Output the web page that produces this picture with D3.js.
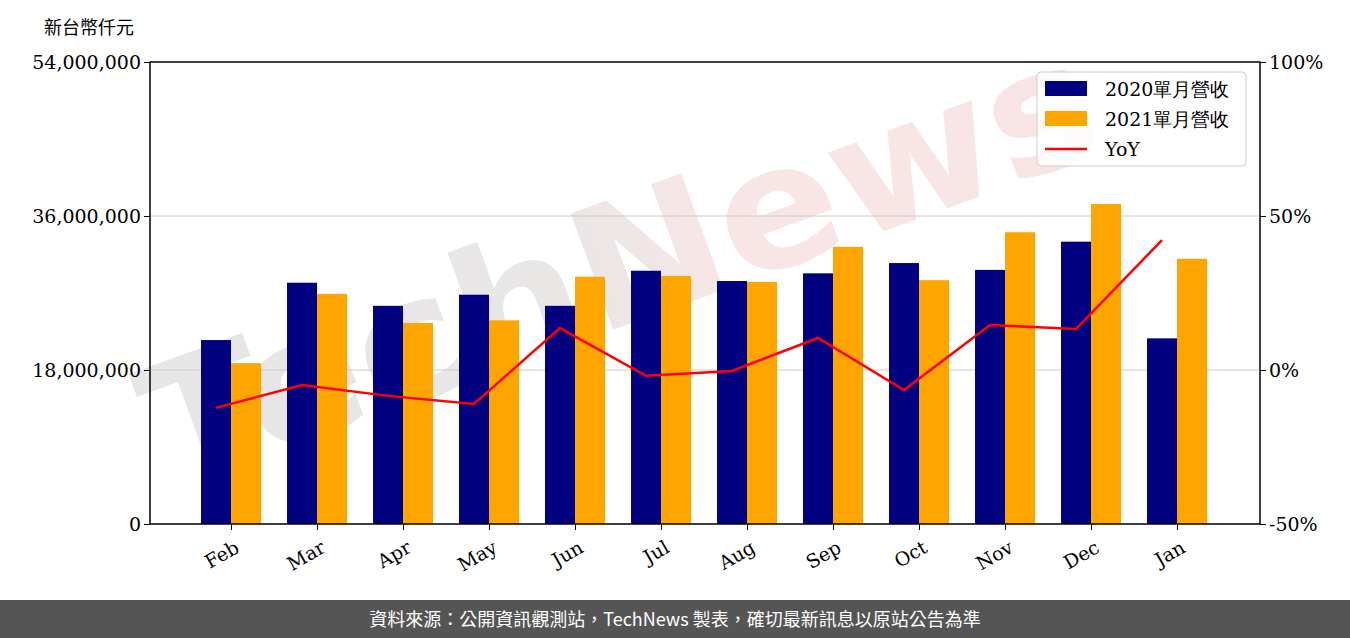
<!DOCTYPE html>
<html><head><meta charset="utf-8">
<script src="https://cdn.jsdelivr.net/npm/d3@7"></script>
<style>body{margin:0;background:#fff}text{font-family:"DejaVu Serif",serif}</style>
</head><body><svg id="c" width="1350" height="638"></svg>
<script>
var months = ["Feb","Mar","Apr","May","Jun","Jul","Aug","Sep","Oct","Nov","Dec","Jan"];
var rev2020 = [21.5,28.2,25.5,26.8,25.5,29.6,28.4,29.3,30.5,29.7,33.0,21.7]; // million
var rev2021 = [18.8,26.9,23.5,23.8,28.9,29.0,28.3,32.4,28.5,34.1,37.4,31.0];
var yoy = [-12.3,-4.9,-8.4,-11,13.6,-1.9,-0.3,10.4,-6.5,14.6,13.3,42.2];
var leftTicks = [0,18e6,36e6,54e6];
var rightTicks = [-50,0,50,100];

var svg = d3.select("#c");
var L=150,R=1260,T=62,B=524;
var x = d3.scalePoint().domain(months).range([231,231+86*11]);
var y = d3.scaleLinear().domain([0,54e6]).range([B,T]);
var y2 = d3.scaleLinear().domain([-50,100]).range([B,T]);

// watermark
var grad = svg.append("defs").append("linearGradient").attr("id","wm");
grad.append("stop").attr("offset","0%").attr("stop-color","#e6e6e6");
grad.append("stop").attr("offset","45%").attr("stop-color","#e9e6e6");
grad.append("stop").attr("offset","60%").attr("stop-color","#f8e6e6");
grad.append("stop").attr("offset","100%").attr("stop-color","#f8e4e4");
svg.append("text").attr("transform","translate(640,320) rotate(-20)")
  .attr("text-anchor","middle").style("font-family","DejaVu Sans").style("font-weight","bold")
  .attr("textLength",1000).attr("lengthAdjust","spacingAndGlyphs")
  .style("font-size","170px").style("fill","url(#wm)").text("TechNews");

svg.append("g").selectAll("line").data(leftTicks.slice(1,3)).join("line")
  .attr("x1",L).attr("x2",R).attr("y1",d=>y(d)).attr("y2",d=>y(d)).attr("stroke","#ccc");

svg.append("g").selectAll("rect").data(rev2020).join("rect")
  .attr("x",(d,i)=>x(months[i])-30).attr("width",30).attr("y",d=>y(d*1e6)).attr("height",d=>B-y(d*1e6)).attr("fill","#000080");
svg.append("g").selectAll("rect").data(rev2021).join("rect")
  .attr("x",(d,i)=>x(months[i])).attr("width",30).attr("y",d=>y(d*1e6)).attr("height",d=>B-y(d*1e6)).attr("fill","#ffa500");

svg.append("path").datum(yoy).attr("fill","none").attr("stroke","red").attr("stroke-width",2.5)
  .attr("d",d3.line().x((d,i)=>x(months[i])-15).y(d=>y2(d)));

svg.append("rect").attr("x",L).attr("y",T).attr("width",R-L).attr("height",B-T).attr("fill","none").attr("stroke","#000").attr("stroke-width",1.5);

var ax = svg.append("g").attr("transform","translate("+L+",0)")
  .call(d3.axisLeft(y).tickValues(leftTicks).tickFormat(d3.format(",")).tickSizeOuter(0));
var ax2 = svg.append("g").attr("transform","translate("+R+",0)")
  .call(d3.axisRight(y2).tickValues(rightTicks).tickFormat(d=>d+"%").tickSizeOuter(0));
var axb = svg.append("g").attr("transform","translate(0,"+B+")")
  .call(d3.axisBottom(x).tickSizeOuter(0));
[ax,ax2,axb].forEach(g=>{g.select(".domain").remove();g.selectAll("text").style("font-size","19px").style("fill","#000");g.selectAll("line").attr("stroke","#000");});
axb.selectAll("text").attr("text-anchor","end").attr("transform","translate(-2,8) rotate(-30)").attr("dy","0.7em");

svg.append("text").attr("x",44).attr("y",34).style("font-family","Noto Sans CJK TC").style("font-size","18px").text("新台幣仟元");

var lg = svg.append("g").attr("transform","translate(1037,72)");
lg.append("rect").attr("width",209).attr("height",94).attr("rx",4).attr("fill","#fff").attr("fill-opacity",0.85).attr("stroke","#ccc");
var items=[["2020單月營收","#000080"],["2021單月營收","#ffa500"],["YoY","red"]];
items.forEach((it,i)=>{
  var yy=17+i*30;
  if(i<2) lg.append("rect").attr("x",8).attr("y",yy-8).attr("width",42).attr("height",15).attr("fill",it[1]);
  else lg.append("line").attr("x1",8).attr("x2",50).attr("y1",yy).attr("y2",yy).attr("stroke",it[1]).attr("stroke-width",2.5);
  lg.append("text").attr("x",68).attr("y",yy+7).style("font-size","19px").text(it[0]);
});

svg.append("rect").attr("x",0).attr("y",600).attr("width",1350).attr("height",38).attr("fill","#555");
svg.append("text").attr("x",675).attr("y",626).attr("text-anchor","middle").style("font-family","Noto Sans CJK TC").style("font-size","18px").style("fill","#fff")
  .text("資料來源：公開資訊觀測站，TechNews 製表，確切最新訊息以原站公告為準");
</script></body></html>
